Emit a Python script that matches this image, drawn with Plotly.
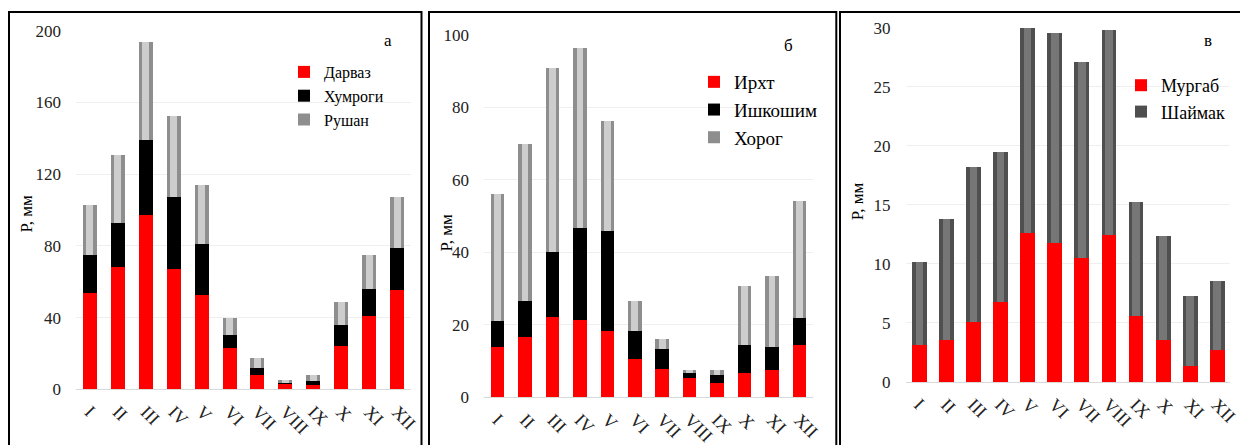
import numpy as np
import plotly.graph_objects as go

W, H = 1240, 445

months = ["I", "II", "III", "IV", "V", "VI", "VII", "VIII", "IX", "X", "XI", "XII"]

# Panel а: Дарваз, Хумроги, Рушан (monthly precipitation, mm)
darvaz = [54.1, 68.4, 97.2, 67.3, 52.6, 23.2, 8.4, 3.3, 2.4, 24.2, 41.3, 55.8]
khumrogi = [21.0, 24.6, 41.8, 40.2, 28.5, 7.1, 3.7, 0.4, 2.4, 11.7, 14.8, 23.2]
rushan = [27.7, 37.9, 54.9, 45.1, 32.8, 9.7, 5.6, 1.5, 3.2, 13.0, 19.2, 28.5]

# Panel б: Ирхт, Ишкошим, Хорог
irkht = [14.0, 16.7, 22.2, 21.3, 18.2, 10.6, 7.8, 5.3, 3.9, 6.7, 7.5, 14.3]
ishkoshim = [7.1, 9.8, 18.0, 25.3, 27.6, 7.6, 5.4, 1.4, 2.3, 7.7, 6.4, 7.5]
khorog = [35.1, 43.3, 50.8, 49.7, 30.5, 8.5, 3.0, 0.8, 1.3, 16.3, 19.6, 32.4]

# Panel в: Мургаб, Шаймак
murgab = [3.2, 3.6, 5.1, 6.8, 12.6, 11.8, 10.5, 12.5, 5.6, 3.6, 1.4, 2.7]
shaimak = [7.0, 10.2, 13.1, 12.7, 17.4, 17.8, 16.6, 17.3, 9.7, 8.8, 5.9, 5.9]

FONT = "Liberation Serif, Times New Roman, serif"
STYLES = {
    "red": ("#ff0000", None),
    "black": ("#000000", None),
    "light": ("#8e8e8e", "#cdcdcd"),
    "dark": ("#4f4f4f", "#767676"),
}


def px_x(x):
    return x / W


def px_y(y):
    return 1 - y / H


fig = go.Figure()


def add_stack(series, ax, legend, width):
    base = np.zeros(len(months))
    for name, values, style in series:
        vals = np.asarray(values, dtype=float)
        outer, inner = STYLES[style]
        fig.add_trace(go.Bar(
            x=months, y=vals, base=base, name=name, width=width,
            marker=dict(color=outer, line=dict(width=0)),
            xaxis="x" + ax, yaxis="y" + ax, legend=legend,
        ))
        if inner is not None:
            # lighter centre strip gives the bevelled look of the grey columns
            fig.add_trace(go.Bar(
                x=months, y=vals, base=base, width=width * 0.5,
                marker=dict(color=inner, line=dict(width=0)),
                xaxis="x" + ax, yaxis="y" + ax, showlegend=False, hoverinfo="skip",
            ))
        base = base + vals


add_stack([("Дарваз", darvaz, "red"), ("Хумроги", khumrogi, "black"),
           ("Рушан", rushan, "light")], "", "legend", 0.5)
add_stack([("Ирхт", irkht, "red"), ("Ишкошим", ishkoshim, "black"),
           ("Хорог", khorog, "light")], "2", "legend2", 0.49)
add_stack([("Мургаб", murgab, "red"), ("Шаймак", shaimak, "dark")],
          "3", "legend3", 0.55)

panels = [
    # (suffix, x0, x1, y_bottom, y_top, ymax, dtick)
    ("", 76, 411, 389.3, 30.7, 200, 40),
    ("2", 484, 813, 397.3, 35.0, 100, 20),
    ("3", 905.5, 1230.2, 382.0, 27.7, 30, 5),
]

layout = dict(
    width=W, height=H, margin=dict(l=0, r=0, t=0, b=0, autoexpand=False),
    paper_bgcolor="white", plot_bgcolor="white",
    barmode="overlay", bargap=0,
    font=dict(family=FONT, color="#222222", size=17),
)

for suf, x0, x1, yb, yt, ymax, dt in panels:
    layout["xaxis" + suf] = dict(
        domain=[px_x(x0), px_x(x1)], anchor="y" + suf,
        tickangle=45, showgrid=False, showline=True,
        linecolor="#d9d9d9", linewidth=1, ticks="",
        ticklabelstandoff=4, automargin=False,
        tickfont=dict(family=FONT, size=18, color="#222222"),
        fixedrange=True,
    )
    layout["yaxis" + suf] = dict(
        domain=[px_y(yb), px_y(yt)], anchor="x" + suf,
        range=[0, ymax], dtick=dt, showgrid=True, gridcolor="#efefef",
        gridwidth=1, zeroline=False, showline=False, ticks="",
        ticklabelstandoff=14, automargin=False,
        tickfont=dict(family=FONT, size=17, color="#222222"),
        fixedrange=True,
    )

legend_common = dict(
    xanchor="left", yanchor="top", bgcolor="rgba(0,0,0,0)",
    itemwidth=30, traceorder="normal",
)
layout["legend"] = dict(legend_common, x=px_x(284), y=px_y(55),
                        font=dict(family=FONT, size=16, color="#000"))
layout["legend2"] = dict(legend_common, x=px_x(694), y=px_y(63),
                         font=dict(family=FONT, size=19, color="#000"))
layout["legend3"] = dict(legend_common, x=px_x(1121), y=px_y(67),
                         font=dict(family=FONT, size=18, color="#000"))

fig.update_layout(**layout)

# Y-axis titles and panel letters
for txt, x, y in [("Р, мм", 26, 213.5), ("Р, мм", 446, 232.5), ("Р, мм", 857.5, 201.7)]:
    fig.add_annotation(text=txt, x=px_x(x), y=px_y(y), xref="paper", yref="paper",
                       xanchor="center", yanchor="middle",
                       showarrow=False, textangle=-90,
                       font=dict(family=FONT, size=17, color="#000"))
for txt, x, y in [("а", 388, 40), ("б", 788, 45), ("в", 1208, 40)]:
    fig.add_annotation(text=txt, x=px_x(x), y=px_y(y), xref="paper", yref="paper",
                       xanchor="center", yanchor="middle",
                       showarrow=False, font=dict(family=FONT, size=17, color="#000"))

# Panel frames
for x0, x1 in [(9, 421.5), (429, 836.3), (840, 1260)]:
    fig.add_shape(type="rect", xref="paper", yref="paper",
                  x0=px_x(x0), x1=px_x(x1), y0=px_y(470), y1=px_y(12),
                  line=dict(color="black", width=2), fillcolor="rgba(0,0,0,0)",
                  layer="above")

fig.write_html("out.html")
